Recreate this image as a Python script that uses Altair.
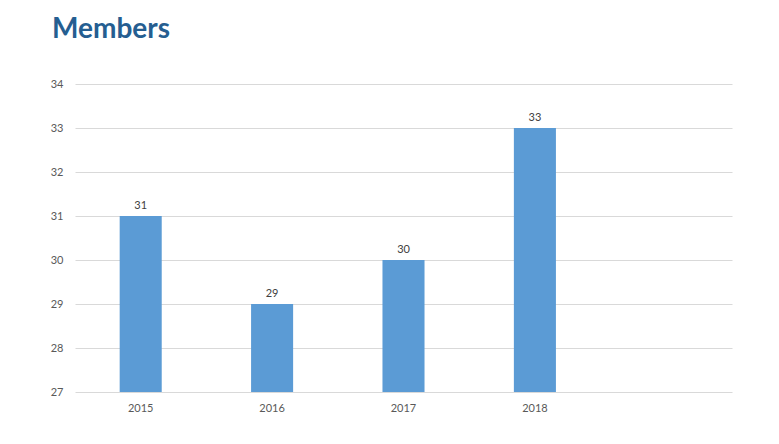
import altair as alt
import pandas as pd

years = ["2015", "2016", "2017", "2018"]
members = [31, 29, 30, 33]
x_domain = ["2015", "2016", "2017", "2018", " "]
y_ticks = [27, 28, 29, 30, 31, 32, 33, 34]

df = pd.DataFrame({"year": years, "members": members, "base": [27] * len(years)})

x = alt.X("year:N", title=None,
          scale=alt.Scale(domain=x_domain, paddingInner=0.68, paddingOuter=0.34),
          axis=alt.Axis(labelAngle=0, ticks=False, domain=False, labelPadding=10,
                        labelFontSize=11, labelColor="#595959", labelFont="Lato"))
y = alt.Y("members:Q", title=None,
          scale=alt.Scale(domain=[27, 34], zero=False, nice=False),
          axis=alt.Axis(values=y_ticks, ticks=False, domain=False, labelPadding=12,
                        labelFontSize=11, labelColor="#595959", labelFont="Lato",
                        gridColor="#D9D9D9", gridWidth=1))

bars = alt.Chart(df).mark_bar(color="#5B9BD5").encode(
    x=x, y=y, y2=alt.Y2("base:Q"))
labels = alt.Chart(df).mark_text(baseline="bottom", dy=-5, fontSize=11,
                                 color="#404040", font="Lato").encode(
    x=x, y=y, text="members:Q")

chart = (bars + labels).properties(
    width=657, height=308,
    title=alt.TitleParams("Members", anchor="start", frame="group", dx=-23,
                          offset=34, fontSize=28, font="Lato", fontWeight="bold",
                          color="#255E91"),
    padding={"left": 67, "top": 76, "right": 20, "bottom": 30},
    autosize=alt.AutoSizeParams(type="none"),
).configure_view(stroke=None)

chart.save("out.html", embed_options={"renderer": "svg", "actions": False})
